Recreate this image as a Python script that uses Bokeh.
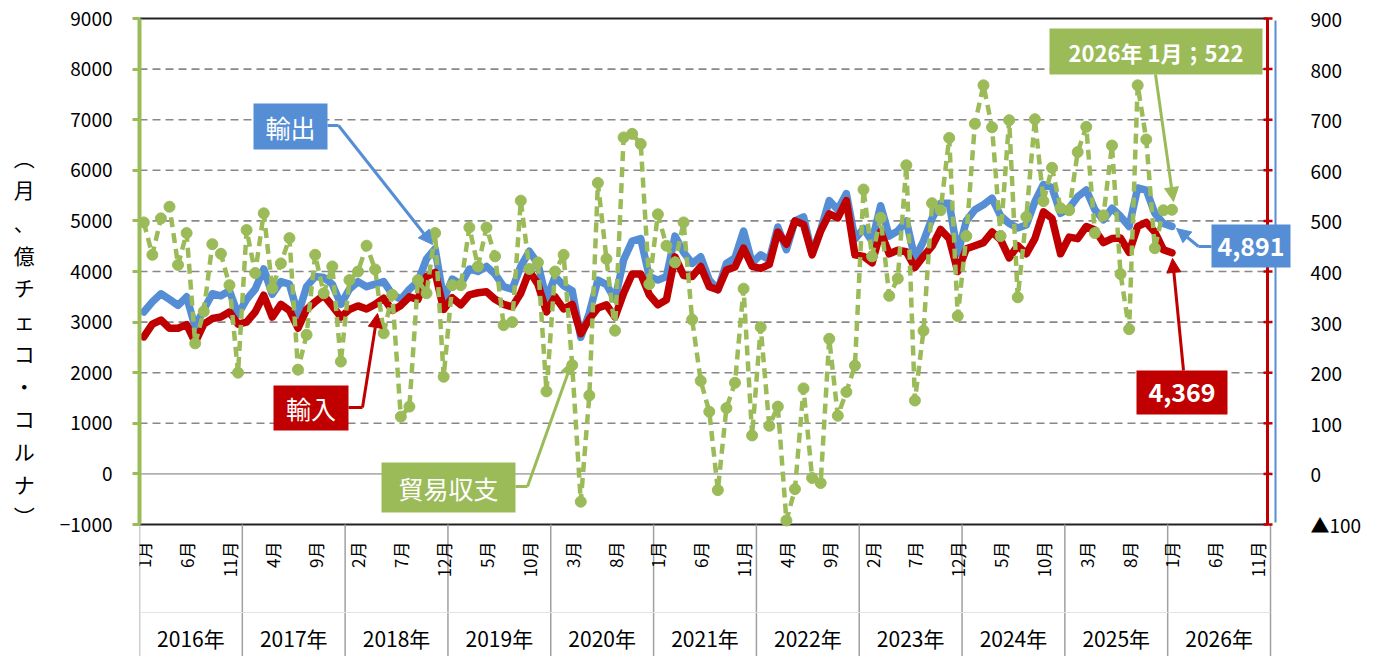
import math
from bokeh.plotting import figure
from bokeh.models import Range1d, LinearAxis, FixedTicker, Arrow, NormalHead
from bokeh.core.properties import value
from bokeh.embed import file_html
from bokeh.resources import INLINE

FONT = "Noto Sans CJK JP"
BLUE = "#558ED5"
RED = "#C00000"
GREEN = "#9BBB59"

# ---------------- data (Jan 2016 .. Jan 2026), 億チェコ・コルナ ----------------
years = [2016, 2017, 2018, 2019, 2020, 2021, 2022, 2023, 2024, 2025, 2026]
month_names = ["1月", "2月", "3月", "4月", "5月", "6月", "7月", "8月", "9月", "10月", "11月", "12月"]

exports = [
    3200, 3400, 3560, 3450, 3330, 3500, 2900, 3250, 3560, 3520, 3620, 3150,
    3450, 3650, 4050, 3550, 3800, 3750, 3150, 3700, 3900, 3880, 3750, 3350,
    3650, 3800, 3700, 3750, 3800, 3550, 3450, 3650, 3800, 4250, 4450, 3450,
    3850, 3750, 4050, 4000, 4100, 3950, 3700, 3650, 4100, 4400, 4150, 3450,
    3900, 3720, 3620, 2700, 3180, 3830, 3740, 3450, 4230, 4600, 4650, 3900,
    3830, 3900, 4700, 4380, 4160, 4290, 3830, 3640, 4160, 4270, 4800, 4170,
    4330, 4230, 4880, 4430, 5000, 5080, 4360, 4820, 5400, 5220, 5540, 4640,
    4850, 4600, 5300, 4700, 4800, 5000, 4250, 4600, 5050, 5350, 5350, 4350,
    5000, 5220, 5320, 5450, 5100, 4950, 4860, 4920, 5380, 5720, 5660, 5150,
    5250, 5480, 5610, 5220, 5020, 5250, 5090, 4890, 5650, 5610, 5150, 4950,
    4891,
]
imports = [
    2710, 2960, 3040, 2880, 2880, 2950, 2600, 2960, 3070, 3100, 3200, 2960,
    3000, 3200, 3530, 3100, 3350, 3230, 2880, 3250, 3400, 3530, 3320, 3100,
    3250, 3320, 3260, 3350, 3470, 3230, 3330, 3500, 3450, 3900, 3980, 3250,
    3480, 3340, 3540, 3580, 3600, 3450, 3350, 3300, 3570, 4010, 3750, 3200,
    3500, 3260, 3350, 2770, 3060, 3280, 3340, 3100, 3570, 3950, 3950, 3540,
    3340, 3440, 4290, 3920, 3900, 4100, 3700, 3640, 4030, 4090, 4460, 4100,
    4060, 4140, 4780, 4540, 5000, 4930, 4330, 4800, 5140, 5060, 5400, 4330,
    4300, 4170, 4790, 4350, 4420, 4390, 4080, 4300, 4500, 4830, 4650, 4000,
    4450, 4510, 4570, 4780, 4630, 4270, 4510, 4350, 4650, 5180, 5050, 4350,
    4680, 4650, 4890, 4820, 4570, 4650, 4660, 4380, 4890, 4970, 4780, 4430,
    4369,
]
balance = [
    497, 433, 505, 528, 413, 476, 258, 321, 454, 435, 373, 200,
    482, 397, 515, 367, 416, 466, 206, 275, 433, 357, 410, 222,
    383, 400, 451, 404, 278, 354, 113, 133, 383, 357, 476, 192,
    373, 373, 487, 410, 487, 430, 294, 300, 540, 405, 418, 163,
    400, 433, 215, -55, 155, 575, 425, 283, 665, 672, 652, 375,
    513, 451, 418, 497, 305, 184, 123, -32, 130, 180, 366, 76,
    290, 95, 133, -92, -30, 169, -8, -18, 267, 115, 162, 214,
    562, 430, 506, 352, 386, 610, 145, 283, 535, 521, 664, 312,
    470, 692, 768, 685, 470, 699, 349, 508, 701, 539, 605, 525,
    521, 636, 686, 476, 511, 649, 395, 286, 768, 661, 446, 521,
    522,
]
left_ticks = [-1000, 0, 1000, 2000, 3000, 4000, 5000, 6000, 7000, 8000, 9000]
right_ticks = [-100, 0, 100, 200, 300, 400, 500, 600, 700, 800, 900]
right_overrides = {-100: "▲100"}
title_chars = ["︵", "月", "、", "億", "チ", "ェ", "コ", "・", "コ", "ル", "ナ", "︶"]

n_cat = len(years) * 12
xs = list(range(len(exports)))

# ---------------- geometry helpers (pixel -> data) ----------------
W, H = 1384, 656
PX_L, PX_R = 139, 1292          # frame left / right on page
PY_T, PY_B = 16, 656            # frame top / bottom on page
CAT_R = 1270                    # right edge of the category area
XU = n_cat / (CAT_R - PX_L)     # data units per px
YU = 10000 / 506                # left-axis units per px (9000 @ 18px, -1000 @ 524px)


def X(px):
    return -0.5 + (px - PX_L) * XU


def Y(py):
    return 9000 - (py - 18) * YU


x_start, x_end = X(PX_L), X(PX_R)
y_start, y_end = Y(PY_B), Y(PY_T)

p = figure(width=W, height=H,
           x_range=Range1d(x_start, x_end), y_range=Range1d(y_start, y_end),
           x_axis_type=None, output_backend="svg", toolbar_location=None,
           min_border_left=PX_L, min_border_right=W - PX_R, min_border_top=PY_T,
           min_border_bottom=H - PY_B,
           outline_line_color=None, background_fill_color="white", border_fill_color="white")
p.extra_y_ranges = {"right": Range1d(y_start / 10, y_end / 10)}
p.xgrid.visible = False
p.ygrid.visible = False

# ---------------- left axis ----------------
ya = p.yaxis[0]
ya.ticker = FixedTicker(ticks=left_ticks)
ya.bounds = (-1000, 9000)
ya.axis_line_color = GREEN
ya.axis_line_width = 4
ya.major_tick_line_color = GREEN
ya.major_tick_line_width = 3
ya.major_tick_out = 7
ya.major_tick_in = 0
ya.minor_tick_line_color = None
ya.major_label_text_font = FONT
ya.major_label_text_font_size = "19px"
ya.major_label_text_color = "black"
ya.major_label_standoff = 20
ya.axis_label = "\n".join(title_chars)
ya.axis_label_orientation = "horizontal"
ya.axis_label_text_font = FONT
ya.axis_label_text_font_size = "21px"
ya.axis_label_text_font_style = "normal"
ya.axis_label_text_color = "black"
ya.axis_label_text_line_height = 1.09
ya.axis_label_standoff = 22

# ---------------- right axis ----------------
ra = LinearAxis(y_range_name="right", ticker=FixedTicker(ticks=right_ticks), bounds=(-100, 900))
ra.axis_line_color = None
ra.major_tick_line_color = None
ra.minor_tick_line_color = None
ra.major_label_overrides = right_overrides
ra.major_label_text_font = FONT
ra.major_label_text_font_size = "19px"
ra.major_label_text_color = "black"
ra.major_label_standoff = 12
p.add_layout(ra, "right")

# ---------------- plot-area furniture ----------------
x_red = X(1267)
dashed = [t for t in left_ticks if 0 < t < 9000]
p.segment(x0=x_start, x1=x_red, y0=dashed, y1=dashed, line_color="#888888", line_width=1.6, line_dash="8 5")
p.segment(x0=x_start, x1=x_red, y0=[0], y1=[0], line_color="#B0B0B0", line_width=1.6)
p.segment(x0=x_start, x1=x_red, y0=[-1000, 9000], y1=[-1000, 9000], line_color="#222222", line_width=2)

# year separators and category area
seps = [k * 12 - 0.5 for k in range(len(years) + 1)]
p.segment(x0=seps, x1=seps, y0=-1000, y1=y_start, line_color="#A0A0A0", line_width=1.5)
p.segment(x0=[x_start], x1=[seps[-1]], y0=[Y(612)], y1=[Y(612)], line_color="#E2E2E2", line_width=1)

# month labels (every 5th month) and year labels
mi = list(range(0, n_cat, 5))
p.text(x=mi, y=Y(541), text=[month_names[i % 12] for i in mi], angle=math.pi / 2,
       text_align="right", text_baseline="middle", text_font=value(FONT),
       text_font_size="17px", text_color="black")
p.text(x=[k * 12 + 5.5 for k in range(len(years))], y=Y(637), text=[f"{yr}年" for yr in years],
       text_align="center", text_baseline="middle", text_font=value(FONT),
       text_font_size="21px", text_color="black")

# ---------------- series ----------------
p.line(xs, exports, line_color=BLUE, line_width=7.5, line_join="round", line_cap="round")
p.line(xs, imports, line_color=RED, line_width=7.5, line_join="round", line_cap="round")
p.line(xs, balance, y_range_name="right", line_color=GREEN, line_width=4.5, line_dash="10 6")
p.scatter(xs, balance, y_range_name="right", size=11, marker="circle",
          fill_color=GREEN, line_color=GREEN)

# right-hand axis lines (red secondary axis, blue edge) with red ticks
p.segment(x0=[x_red], x1=[x_red], y0=[-1000], y1=[9000], line_color=RED, line_width=3)
p.segment(x0=X(1263), x1=X(1272), y0=left_ticks, y1=left_ticks, line_color=RED, line_width=2.5)
p.segment(x0=[X(1275)], x1=[X(1275)], y0=[Y(20)], y1=[Y(522)], line_color=BLUE, line_width=2)

# ---------------- callouts ----------------
def callout(box, text, color, size, bold, path):
    l, t, r, b = box
    p.quad(left=X(l), right=X(r), top=Y(t), bottom=Y(b), fill_color=color, line_color=None)
    p.text(x=[X((l + r) / 2)], y=[Y((t + b) / 2)], text=[text], text_align="center",
           text_baseline="middle", text_font=value(FONT), text_font_size=size,
           text_font_style="bold" if bold else "normal", text_color="white")
    if len(path) > 2:
        p.line([X(a) for a, _ in path[:-1]], [Y(c) for _, c in path[:-1]],
               line_color=color, line_width=3)
    (sx, sy), (ex, ey) = path[-2], path[-1]
    p.add_layout(Arrow(end=NormalHead(size=14, fill_color=color, line_color=color),
                       x_start=X(sx), y_start=Y(sy), x_end=X(ex), y_end=Y(ey),
                       line_color=color, line_width=3))


callout((253, 103, 327, 149), "輸出", BLUE, "25px", False,
        [(327, 125), (338, 125), (432, 244)])
callout((273, 385, 348, 430), "輸入", RED, "25px", False,
        [(348, 407), (362, 407), (377, 313)])
callout((381, 462, 515, 512), "貿易収支", GREEN, "25px", False,
        [(515, 486), (527, 486), (572, 360)])
callout((1049, 28, 1262, 74), "2026年 1月；522", GREEN, "22px", True,
        [(1155, 74), (1173, 201)])
callout((1211, 224, 1290, 267), "4,891", BLUE, "25px", True,
        [(1211, 246), (1198, 246), (1176, 228)])
callout((1136, 370, 1227, 414), "4,369", RED, "25px", True,
        [(1183, 370), (1172, 258)])

open("out.html", "w").write(file_html(p, INLINE))
